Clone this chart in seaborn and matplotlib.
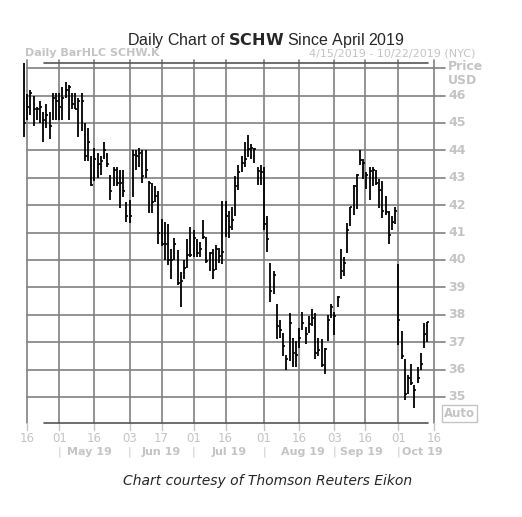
import numpy as np
import pandas as pd
import matplotlib
matplotlib.use("Agg")
import matplotlib.pyplot as plt
import seaborn as sns

# daily bars: high, low, close (trading-day index = position)
highs = [47.2, 46.05, 46.2, 46.0, 45.6, 45.8, 45.4, 45.7, 45.4, 46.1, 46.1, 46.1, 46.3, 46.5, 46.4, 46.1, 46.1, 45.9, 46.1,
         45.0, 44.8, 43.8, 44.1, 43.9, 43.8, 44.3, 43.9, 43.1, 43.4, 43.4, 43.3, 43.3, 42.1, 42.2, 44.0, 44.0, 44.1, 44.0,
         44.0, 42.9, 42.8, 42.7, 42.5, 41.5, 41.4, 41.3, 40.4, 40.8, 40.35, 39.55, 40.0, 40.75, 41.2, 41.1, 40.75, 40.65,
         41.45, 40.85, 40.3, 40.4, 40.55, 40.45, 42.15, 42.15, 41.8, 41.95, 43.05, 43.45, 43.8, 44.3, 44.55, 44.25, 44.1,
         43.4, 43.45, 43.4, 41.6, 39.9, 39.6, 38.4, 37.8, 37.35, 36.55, 38.05, 37.15, 37.05, 37.5, 38.1, 37.55, 37.95,
         38.2, 38.05, 37.15, 37.1, 36.8, 38.0, 38.4, 38.1, 38.7, 40.4, 40.1, 41.35, 41.95, 42.75, 43.15, 44.0, 43.7, 43.2,
         43.4, 43.4, 43.3, 42.95, 42.9, 42.35, 41.8, 41.6, 41.95, 39.85, 37.4, 36.4, 35.8, 36.2, 35.45, 36.1, 36.6, 37.7,
         37.75]
lows = [44.5, 45.1, 45.3, 44.9, 45.1, 45.0, 44.3, 44.8, 44.4, 45.1, 45.1, 45.1, 45.1, 45.9, 45.1, 45.5, 45.5, 44.5, 44.7,
        43.6, 43.6, 42.7, 42.9, 43.0, 43.1, 43.7, 43.4, 42.2, 42.7, 42.7, 41.9, 42.3, 41.4, 41.35, 42.3, 43.3, 43.4, 42.8,
        43.0, 41.7, 41.7, 42.1, 40.6, 40.5, 40.0, 39.8, 39.3, 40.0, 39.1, 38.3, 39.3, 39.7, 40.1, 40.1, 40.1, 40.1, 40.75,
        39.9, 39.6, 39.3, 39.65, 39.9, 39.85, 40.85, 40.8, 41.1, 41.6, 42.55, 43.2, 43.4, 43.75, 43.7, 43.55, 42.75, 42.75,
        41.1, 40.3, 38.45, 38.75, 37.1, 37.15, 36.5, 36.0, 36.3, 36.1, 36.1, 36.8, 37.45, 36.95, 37.35, 37.6, 36.4, 36.5,
        36.1, 35.85, 37.05, 37.9, 37.25, 38.3, 39.3, 39.4, 40.25, 41.25, 41.65, 41.85, 43.45, 42.95, 42.6, 42.2, 42.7,
        42.75, 41.9, 41.55, 41.65, 40.6, 41.1, 41.3, 36.9, 36.4, 34.9, 35.1, 35.45, 34.6, 35.5, 36.0, 36.8, 37.0]
closes = [45.0, 45.6, 46.1, 45.5, 45.5, 45.6, 45.1, 45.3, 44.9, 45.9, 45.8, 45.6, 45.9, 46.2, 46.3, 45.7, 45.5, 45.8, 45.8,
          43.8, 44.3, 42.75, 43.7, 43.5, 43.6, 44.0, 43.5, 42.5, 43.3, 42.8, 42.8, 42.5, 41.6, 41.6, 43.85, 43.8, 43.9,
          43.05, 43.3, 42.8, 42.1, 42.35, 41.0, 40.6, 40.6, 40.0, 40.0, 40.6, 39.15, 39.25, 39.7, 40.2, 40.2, 40.8, 40.25,
          40.4, 40.85, 39.95, 40.25, 39.65, 40.4, 40.15, 40.3, 41.6, 41.2, 41.45, 42.7, 43.2, 43.55, 43.7, 44.05, 44.1,
          44.05, 43.25, 43.2, 41.3, 40.75, 38.85, 39.45, 37.6, 37.45, 36.85, 36.4, 37.7, 36.6, 36.55, 37.15, 37.7, 37.3,
          37.65, 37.9, 36.6, 36.7, 36.15, 36.75, 37.8, 38.3, 37.95, 38.65, 39.6, 39.9, 41.1, 41.95, 42.7, 43.1, 43.65,
          43.55, 43.1, 43.25, 43.3, 42.8, 42.55, 41.8, 41.75, 40.9, 41.4, 41.8, 37.8, 36.5, 35.1, 35.7, 35.5, 35.25, 35.7,
          36.2, 37.3, 37.75]

day_ticks = [1, 11, 22, 33, 43, 53, 63, 75, 86, 97, 106.5, 117, 128]
day_labels = ["16", "01", "16", "03", "17", "01", "16", "01", "16", "03", "16", "01", "16"]
month_starts = [11, 33, 53, 75, 97, 117]
month_labels = ["May 19", "Jun 19", "Jul 19", "Aug 19", "Sep 19", "Oct 19"]
month_label_pos = [20.5, 43, 64, 87, 105.5, 124.5]
price_levels = list(range(35, 47))

df = pd.DataFrame({"high": highs, "low": lows, "close": closes})
df["day"] = np.arange(len(df))

sns.set_theme(style="white")
plt.rcParams["font.family"] = ["DejaVu Sans"]

W, H = 522, 517
fig = plt.figure(figsize=(W / 100, H / 100), dpi=100)
ax = fig.add_axes([27 / W, 1 - 423 / H, 407 / W, 360 / H])
ax.set_xlim(0.94, 128.1)
ax.set_ylim(34.05, 47.19)
for s in ax.spines.values():
    s.set_visible(False)
ax.set_xticks([])
ax.set_yticks([])

grid_c = "#808080"
lab_c = "#c4c4c4"
for p in price_levels + [47]:
    ax.plot([0.94, 131.5], [p, p], color=grid_c, lw=1.2, clip_on=False, zorder=1)
for d in day_ticks:
    ax.plot([d, d], [34.05, 47.3], color=grid_c, lw=1.2, clip_on=False, zorder=1)
    ax.plot([d, d], [33.8, 34.05], color=lab_c, lw=1, clip_on=False)
# top / bottom frame lines
ax.plot([6.3, 126.2], [47.19, 47.19], color="#555555", lw=1.2, clip_on=False)
ax.plot([6.3, 126.2], [34.05, 34.05], color="#555555", lw=1.2, clip_on=False)

# HLC bars
ax.vlines(df["day"], df["low"], df["high"], color="black", lw=1.3, zorder=3, clip_on=False)
ax.hlines(df["close"], df["day"], df["day"] + 0.6, color="black", lw=1.2, zorder=3, clip_on=False)

for p in price_levels:
    ax.text(132.5, p, str(p), color=lab_c, fontsize=9, va="center", ha="left", fontweight="bold")
ax.text(132.5, 47.05, "Price", color=lab_c, fontsize=9, va="center", ha="left", fontweight="bold")
ax.text(132.5, 46.55, "USD", color=lab_c, fontsize=9, va="center", ha="left", fontweight="bold")
ax.text(131.2, 34.4, "Auto", color=lab_c, fontsize=8.5, va="center", ha="left", fontweight="bold",
        bbox=dict(facecolor="white", edgecolor=lab_c, pad=1.2, lw=1))

for d, l in zip(day_ticks, day_labels):
    ax.text(d, 33.5, l, color=lab_c, fontsize=8.5, ha="center", va="center")
for s, m, x in zip(month_starts, month_labels, month_label_pos):
    ax.text(s, 33.0, "|", color=lab_c, fontsize=8, ha="center", va="center")
    ax.text(x, 33.0, m, color=lab_c, fontsize=8, ha="center", va="center", fontweight="bold")

ax.text(0.3, 47.55, "Daily BarHLC SCHW.K", color=lab_c, fontsize=8, fontweight="bold", ha="left", va="center")
ax.text(141, 47.55, "4/15/2019 - 10/22/2019 (NYC)", color=lab_c, fontsize=8, ha="right", va="center")

fig.text(266 / W, 1 - 40 / H, "Daily Chart of $\\bf{SCHW}$ Since April 2019", fontsize=11.5,
         ha="center", va="center", family="Liberation Sans")
fig.text(268 / W, 1 - 481 / H, "Chart courtesy of Thomson Reuters Eikon", fontsize=10,
         ha="center", va="center", style="italic")

fig.savefig("out.png", dpi=100)
